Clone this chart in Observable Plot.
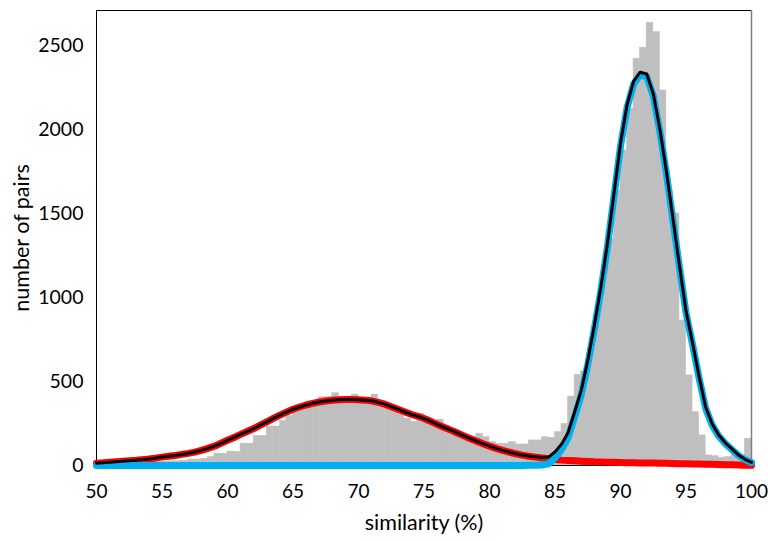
<!DOCTYPE html>
<html><head><meta charset="utf-8">
<script src="https://cdn.jsdelivr.net/npm/d3@7"></script>
<script src="https://cdn.jsdelivr.net/npm/@observablehq/plot@0.6"></script>
<style>body{margin:0;background:#fff;}</style>
</head><body><div id="chart"></div>
<script>
// histogram: 0.5%-wide bins starting at 50.0, 50.5, ... 99.5
const binStarts = d3.range(50, 100, 0.5);
const counts = [
  25,25,22,22,20,20,22,22,20,22,      // 50.0-54.5
  22,25,25,28,35,35,40,50,70,70,      // 55.0-59.5
  83,80,130,130,175,175,232,232,265,295, // 60.0-64.5
  318,340,355,375,406,406,430,403,403,422, // 65.0-69.5
  397,397,422,347,347,325,305,278,260,308, // 70.0-74.5
  268,262,272,235,215,195,175,170,188,168, // 75.0-79.5
  139,129,129,139,125,125,149,149,168,165, // 80.0-84.5
  198,248,410,540,560,700,900,1121,1349,1637, // 85.0-89.5
  1875,2123,2421,2486,2635,2579,2232,1637,1500,863, // 90.0-94.5
  536,317,179,60,55,45,50,85,42,159   // 95.0-99.5
];
// fitted curves sampled every 0.5 from 50 to 100
const fitX = d3.range(50, 100.001, 0.5);
const redFit = [
  14,16,19,22,25,28,31,35,39,44,       // 50-54.5
  50,55,60,66,72,80,90,102,115,132,    // 55-59.5
  150,167,185,202,220,240,260,280,300,318, // 60-64.5
  335,348,360,370,378,384,388,391,393,393, // 65-69.5
  391,389,385,376,365,350,335,320,305,293, // 70-74.5
  280,263,245,228,212,195,178,161,145,130, // 75-79.5
  115,102,90,80,70,62,55,50,45,40,     // 80-84.5
  35,32,30,28,26,24,22,21,20,19,       // 85-89.5
  18,17,16,15.5,15,14.5,14,13,12,11,   // 90-94.5
  10,9.5,9,8,7,6,5,4,3,2,              // 95-99.5
  1                                    // 100
];
const blueFit = [
  0,0,0,0,0,0,0,0,0,0,
  0,0,0,0,0,0,0,0,0,0,
  0,0,0,0,0,0,0,0,0,0,
  0,0,0,0,0,0,0,0,0,0,
  0,0,0,0,0,0,0,0,0,0,
  0,0,0,0,0,0,0,0,0,0,
  0,0,0,0,0,0,1,2,3,10,                // 80-84.5
  45,95,165,290,420,600,810,1040,1300,1600, // 85-89.5
  1900,2130,2270,2325,2315,2200,1990,1740,1460,1180, // 90-94.5
  910,720,520,340,240,175,130,95,60,35, // 95-99.5
  18
];
const xTicks = [50,55,60,65,70,75,80,85,90,95,100];
const yTicks = [0,500,1000,1500,2000,2500];

const bins = binStarts.map((s, i) => ({x1: s, x2: s + 0.5, count: counts[i]}));
const red = fitX.map((x, i) => ({x, y: redFit[i]}));
const blue = fitX.map((x, i) => ({x, y: blueFit[i]}));
const total = fitX.map((x, i) => ({x, y: redFit[i] + blueFit[i]}));

const chart = Plot.plot({
  width: 768,
  height: 541,
  marginLeft: 96,
  marginRight: 17,
  marginTop: 10,
  marginBottom: 76,
  style: {fontFamily: "Lato, 'Open Sans', sans-serif", fontSize: "20px", color: "#000", background: "#fff"},
  x: {domain: [50, 100]},
  y: {domain: [0, 2708]},
  marks: [
    Plot.rectY(bins, {x1: "x1", x2: "x2", y: "count", fill: "#BFBFBF", stroke: "#BFBFBF", strokeWidth: 0.6}),
    Plot.frame({stroke: "#000", strokeWidth: 1}),
    Plot.ruleX([100], {stroke: "#7f7f7f", strokeWidth: 1.5}),
    Plot.line(red, {x: "x", y: "y", stroke: "#FF0000", strokeWidth: 7, strokeLinejoin: "round"}),
    Plot.line(blue, {x: "x", y: "y", stroke: "#00B0F0", strokeWidth: 7, strokeLinejoin: "round"}),
    Plot.line(total, {x: "x", y: "y", stroke: "#000", strokeWidth: 3, strokeLinejoin: "round"}),
    Plot.axisX(xTicks, {tickSize: 0, tickPadding: 19, label: null, fontSize: 19, tickFormat: "d"}),
    Plot.axisY(yTicks, {tickSize: 0, tickPadding: 13, label: null, fontSize: 19.5, tickFormat: "d"}),
    Plot.text(["similarity (%)"], {frameAnchor: "bottom", dy: 58, fontSize: 21.5, textAnchor: "middle", lineAnchor: "middle"}),
    Plot.text(["number of pairs"], {frameAnchor: "left", dx: -74, rotate: -90, fontSize: 21.5, textAnchor: "middle", lineAnchor: "middle"})
  ]
});
document.getElementById("chart").append(chart);
</script>
</body></html>
